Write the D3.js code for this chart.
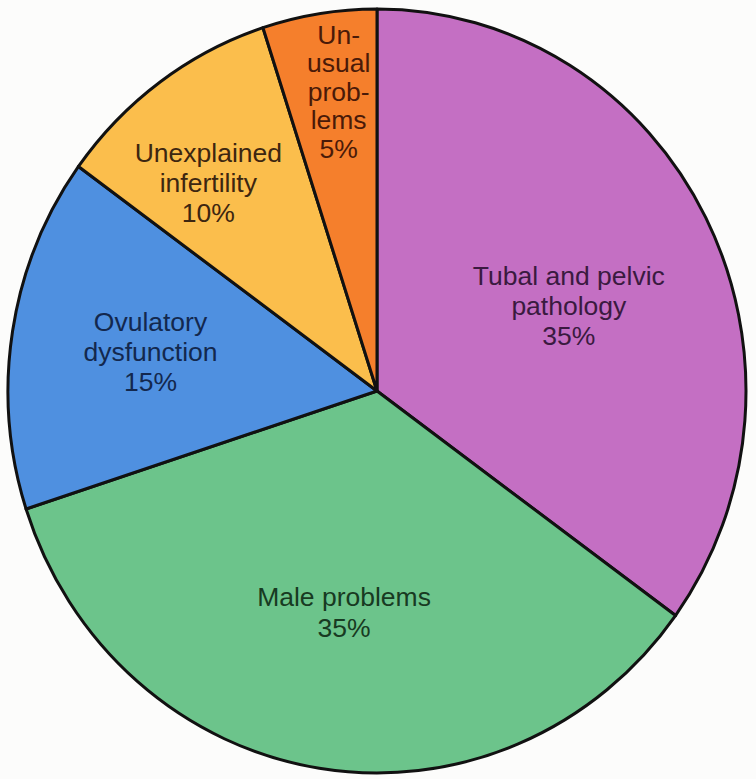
<!DOCTYPE html>
<html>
<head>
<meta charset="utf-8">
<script src="https://cdn.jsdelivr.net/npm/d3@7"></script>
<style>
  html, body { margin: 0; padding: 0; background: #fcfcfb; }
  svg { display: block; }
  text { font-family: "Liberation Sans", Arial, Helvetica, sans-serif; }
</style>
</head>
<body>
<svg id="chart" width="756" height="779"></svg>
<script>
// ---- data ----
const categories = ["Tubal and pelvic pathology", "Male problems", "Ovulatory dysfunction", "Unexplained infertility", "Unusual problems"];
const values = [35, 35, 15, 10, 5];
const labelLines = [
  ["Tubal and pelvic", "pathology", "35%"],
  ["Male problems", "35%"],
  ["Ovulatory", "dysfunction", "15%"],
  ["Unexplained", "infertility", "10%"],
  ["Un-", "usual", "prob-", "lems", "5%"]
];

// ---- styles / layout ----
const fills = ["#c46fc3", "#6cc48b", "#4f90e0", "#fbbe4c", "#f57f2c"];
const textColors = ["#3a1a40", "#183a22", "#13284e", "#3d2610", "#4a1a08"];
const labelRadius = [210, 223, 230, 268, 302];
const labelAngleShift = [3, -0.5, 1, -3, 1.7];
const lineHeights = [30, 31, 30, 30, 28.5];

const W = 756, H = 779;
const cx = 377, cy = 391;
const ry = 382, rx = 369;

const svg = d3.select("#chart");

const pie = d3.pie().sort(null).value(d => d)(values);
const arc = d3.arc().innerRadius(0).outerRadius(ry);

const g = svg.append("g")
  .attr("transform", `translate(${cx},${cy}) scale(${rx / ry},1)`);

g.selectAll("path.slice")
  .data(pie)
  .enter().append("path")
  .attr("class", "slice")
  .attr("d", arc)
  .attr("fill", (d, i) => fills[i])
  .attr("stroke", "#111")
  .attr("stroke-width", 3)
  .attr("stroke-linejoin", "round")
  .attr("vector-effect", "non-scaling-stroke");

// labels
const fontSize = 26.5;
const capHalf = fontSize * 0.716 / 2;
const lg = svg.append("g");
pie.forEach((d, i) => {
  const a = (d.startAngle + d.endAngle) / 2 + labelAngleShift[i] * Math.PI / 180;
  const x = cx + labelRadius[i] * Math.sin(a);
  const y = cy - labelRadius[i] * Math.cos(a);
  const lines = labelLines[i];
  const lh = lineHeights[i];
  const firstBaseline = y - (lines.length - 1) / 2 * lh + capHalf;
  const t = lg.append("text")
    .attr("text-anchor", "middle")
    .attr("font-size", fontSize)
    .attr("fill", textColors[i]);
  lines.forEach((ln, k) => {
    t.append("tspan")
      .attr("x", x)
      .attr("y", firstBaseline + k * lh)
      .text(ln);
  });
});
</script>
</body>
</html>
